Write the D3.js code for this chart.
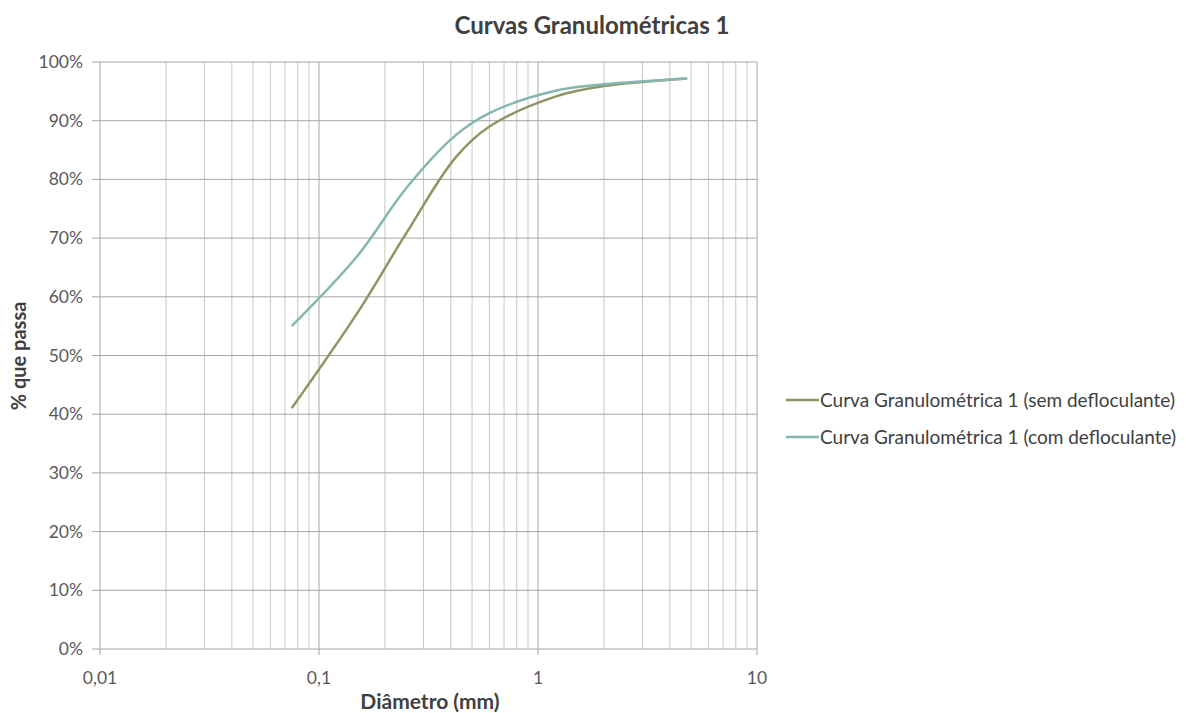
<!DOCTYPE html>
<html>
<head>
<meta charset="utf-8">
<script src="https://cdn.jsdelivr.net/npm/d3@7.9.0/dist/d3.min.js"></script>
<style>
  body { margin: 0; background: #fff; }
  svg { display: block; font-family: Lato, "Open Sans", sans-serif; }
</style>
</head>
<body>
<svg id="chart" width="1186" height="713"></svg>
<script>
// sieve openings (mm) and % passing
const diameters = [0.075, 0.15, 0.25, 0.42, 0.6, 1.2, 2.0, 4.8];
const semDefloculante = [41.0, 57.3, 70.8, 83.7, 89.0, 94.1, 95.9, 97.2];
const comDefloculante = [55.0, 67.0, 78.5, 87.5, 91.3, 95.1, 96.2, 97.2];

const seriesNames = [
  'Curva Granulométrica 1 (sem defloculante)',
  'Curva Granulométrica 1 (com defloculante)'
];
const seriesColors = ['#8f9563', '#86b6b2'];

const xTickValues = [0.01, 0.1, 1, 10];
const xTickLabels = ['0,01', '0,1', '1', '10'];
const yTickValues = d3.range(0, 101, 10);

const svg = d3.select('#chart');

// plot area
const plotLeft = 100, plotRight = 757, plotTop = 62, plotBottom = 649;

const x = d3.scaleLog().domain([0.01, 10]).range([plotLeft, plotRight]);
const y = d3.scaleLinear().domain([0, 100]).range([plotBottom, plotTop]);

// minor vertical gridlines (2..9 of each decade)
const minorTicks = [];
[0.01, 0.1, 1].forEach(dec => {
  for (let k = 2; k <= 9; k++) minorTicks.push(dec * k);
});

const grid = svg.append('g');

grid.selectAll('line.minor')
  .data(minorTicks)
  .enter()
  .append('line')
  .attr('x1', d => x(d)).attr('x2', d => x(d))
  .attr('y1', plotTop).attr('y2', plotBottom)
  .attr('stroke', '#c6c6c6')
  .attr('stroke-width', 1);

grid.selectAll('line.hgrid')
  .data(yTickValues)
  .enter()
  .append('line')
  .attr('x1', plotLeft - 8).attr('x2', plotRight)
  .attr('y1', d => y(d)).attr('y2', d => y(d))
  .attr('stroke', '#a6a6a6')
  .attr('stroke-width', 1);

grid.selectAll('line.major')
  .data(xTickValues)
  .enter()
  .append('line')
  .attr('x1', d => x(d)).attr('x2', d => x(d))
  .attr('y1', plotTop).attr('y2', plotBottom + 6)
  .attr('stroke', '#a6a6a6')
  .attr('stroke-width', 1);

// tick labels
svg.append('g')
  .selectAll('text')
  .data(yTickValues)
  .enter()
  .append('text')
  .attr('x', plotLeft - 17)
  .attr('y', d => y(d) + 6)
  .attr('text-anchor', 'end')
  .attr('font-size', 17.5)
  .attr('fill', '#595959')
  .text(d => d + '%');

svg.append('g')
  .selectAll('text')
  .data(xTickValues)
  .enter()
  .append('text')
  .attr('x', d => x(d))
  .attr('y', 684)
  .attr('text-anchor', 'middle')
  .attr('font-size', 17.5)
  .attr('fill', '#595959')
  .text((d, i) => xTickLabels[i]);

// curves
const line = d3.line()
  .x(d => x(d[0]))
  .y(d => y(d[1]))
  .curve(d3.curveCatmullRom.alpha(0.5));

[semDefloculante, comDefloculante].forEach((vals, i) => {
  svg.append('path')
    .datum(diameters.map((d, j) => [d, vals[j]]))
    .attr('d', line)
    .attr('fill', 'none')
    .attr('stroke', seriesColors[i])
    .attr('stroke-width', 2.5);
});

// titles
svg.append('text')
  .attr('x', 592).attr('y', 34)
  .attr('text-anchor', 'middle')
  .attr('font-size', 24)
  .attr('font-weight', 'bold')
  .attr('fill', '#404040')
  .text('Curvas Granulométricas 1');

svg.append('text')
  .attr('x', 430).attr('y', 709)
  .attr('text-anchor', 'middle')
  .attr('font-size', 21)
  .attr('font-weight', 'bold')
  .attr('fill', '#404040')
  .text('Diâmetro (mm)');

svg.append('text')
  .attr('transform', 'translate(26,356) rotate(-90)')
  .attr('text-anchor', 'middle')
  .attr('font-size', 20)
  .attr('font-weight', 'bold')
  .attr('fill', '#404040')
  .text('% que passa');

// legend
const legend = svg.append('g')
  .selectAll('g')
  .data(seriesNames)
  .enter()
  .append('g')
  .attr('transform', (d, i) => `translate(786,${400 + i * 37})`);

legend.append('line')
  .attr('x1', 0).attr('x2', 33)
  .attr('stroke', (d, i) => seriesColors[i])
  .attr('stroke-width', 2.5);

legend.append('text')
  .attr('x', 34)
  .attr('y', 6.5)
  .attr('font-size', 19)
  .attr('fill', '#404040')
  .text(d => d);
</script>
</body>
</html>
